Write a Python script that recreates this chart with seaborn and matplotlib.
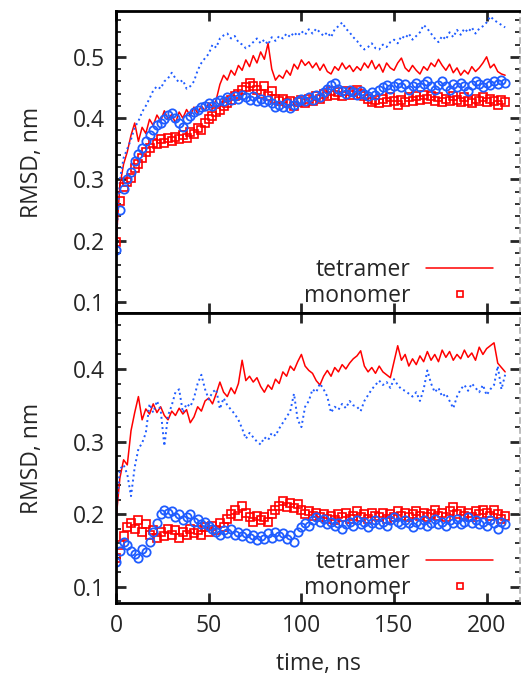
import numpy as np
import seaborn as sns
import matplotlib.pyplot as plt
from matplotlib.lines import Line2D
from matplotlib.ticker import MultipleLocator

red = "#ff0000"
blue = "#1f5cff"

time_ns = list(range(0, 211, 2))

top_tetramer_a = [0.200, 0.290, 0.325, 0.345, 0.372, 0.392, 0.362, 0.385, 0.375, 0.398, 0.388, 0.405, 0.395, 0.412, 0.398,
                  0.406, 0.392, 0.410, 0.400, 0.414, 0.404, 0.418, 0.408, 0.420, 0.412, 0.425, 0.418, 0.430, 0.455, 0.470,
                  0.462, 0.478, 0.470, 0.486, 0.478, 0.495, 0.484, 0.502, 0.490, 0.508, 0.496, 0.522, 0.480, 0.462, 0.470,
                  0.465, 0.478, 0.470, 0.488, 0.480, 0.495, 0.486, 0.492, 0.482, 0.490, 0.478, 0.488, 0.476, 0.472, 0.484,
                  0.478, 0.490, 0.480, 0.486, 0.476, 0.484, 0.478, 0.490, 0.482, 0.494, 0.480, 0.488, 0.475, 0.490, 0.482,
                  0.478, 0.490, 0.498, 0.482, 0.476, 0.486, 0.478, 0.472, 0.484, 0.478, 0.490, 0.484, 0.496, 0.486, 0.478,
                  0.488, 0.474, 0.482, 0.470, 0.478, 0.472, 0.484, 0.476, 0.482, 0.490, 0.500, 0.482, 0.488, 0.476, 0.472,
                  0.470]
top_tetramer_b = [0.200, 0.300, 0.335, 0.350, 0.365, 0.385, 0.395, 0.410, 0.420, 0.432, 0.445, 0.452, 0.448, 0.460, 0.465,
                  0.474, 0.465, 0.458, 0.462, 0.448, 0.452, 0.460, 0.478, 0.490, 0.498, 0.505, 0.520, 0.515, 0.530, 0.535,
                  0.538, 0.530, 0.534, 0.524, 0.520, 0.514, 0.518, 0.524, 0.530, 0.522, 0.528, 0.520, 0.532, 0.526, 0.534,
                  0.530, 0.538, 0.532, 0.540, 0.534, 0.542, 0.536, 0.545, 0.538, 0.546, 0.540, 0.534, 0.540, 0.532, 0.545,
                  0.550, 0.556, 0.546, 0.540, 0.532, 0.526, 0.518, 0.512, 0.516, 0.522, 0.514, 0.512, 0.520, 0.516, 0.524,
                  0.528, 0.522, 0.534, 0.530, 0.538, 0.528, 0.534, 0.540, 0.552, 0.546, 0.538, 0.530, 0.524, 0.534, 0.528,
                  0.540, 0.532, 0.544, 0.536, 0.546, 0.540, 0.548, 0.538, 0.546, 0.550, 0.556, 0.566, 0.560, 0.556, 0.552,
                  0.548]
top_monomer_a = [0.198, 0.265, 0.288, 0.295, 0.302, 0.318, 0.325, 0.335, 0.345, 0.352, 0.360, 0.358, 0.366, 0.360, 0.368,
                 0.362, 0.370, 0.366, 0.372, 0.368, 0.378, 0.374, 0.384, 0.380, 0.392, 0.398, 0.404, 0.410, 0.414, 0.420,
                 0.425, 0.430, 0.436, 0.440, 0.446, 0.450, 0.458, 0.452, 0.446, 0.440, 0.452, 0.436, 0.444, 0.432, 0.428,
                 0.432, 0.424, 0.428, 0.420, 0.426, 0.430, 0.424, 0.432, 0.428, 0.436, 0.432, 0.440, 0.436, 0.444, 0.438,
                 0.442, 0.436, 0.444, 0.438, 0.442, 0.446, 0.440, 0.436, 0.432, 0.426, 0.430, 0.424, 0.432, 0.426, 0.434,
                 0.428, 0.422, 0.430, 0.426, 0.434, 0.428, 0.436, 0.430, 0.438, 0.432, 0.436, 0.428, 0.434, 0.426, 0.432,
                 0.428, 0.436, 0.430, 0.426, 0.434, 0.428, 0.424, 0.432, 0.428, 0.434, 0.426, 0.432, 0.428, 0.422, 0.430,
                 0.426]
top_monomer_b = [0.185, 0.250, 0.285, 0.300, 0.312, 0.330, 0.342, 0.352, 0.362, 0.372, 0.380, 0.388, 0.392, 0.398, 0.405,
                 0.408, 0.400, 0.392, 0.385, 0.398, 0.404, 0.410, 0.414, 0.418, 0.420, 0.424, 0.420, 0.426, 0.430, 0.428,
                 0.434, 0.430, 0.436, 0.432, 0.438, 0.434, 0.430, 0.436, 0.428, 0.432, 0.426, 0.430, 0.424, 0.418, 0.422,
                 0.418, 0.424, 0.416, 0.422, 0.428, 0.432, 0.428, 0.434, 0.430, 0.438, 0.434, 0.442, 0.448, 0.454, 0.458,
                 0.448, 0.444, 0.440, 0.446, 0.442, 0.438, 0.444, 0.440, 0.436, 0.442, 0.438, 0.446, 0.450, 0.454, 0.448,
                 0.452, 0.458, 0.450, 0.456, 0.446, 0.452, 0.458, 0.450, 0.456, 0.460, 0.452, 0.446, 0.454, 0.460, 0.452,
                 0.446, 0.456, 0.450, 0.458, 0.452, 0.444, 0.454, 0.460, 0.456, 0.450, 0.458, 0.454, 0.460, 0.456, 0.462,
                 0.458]

bot_tetramer_a = [0.195, 0.250, 0.275, 0.268, 0.315, 0.340, 0.362, 0.330, 0.345, 0.338, 0.352, 0.340, 0.348, 0.336, 0.330,
                  0.342, 0.336, 0.346, 0.338, 0.344, 0.326, 0.334, 0.348, 0.342, 0.356, 0.360, 0.352, 0.366, 0.382, 0.368,
                  0.362, 0.374, 0.366, 0.380, 0.412, 0.384, 0.390, 0.382, 0.388, 0.376, 0.368, 0.378, 0.372, 0.386, 0.380,
                  0.396, 0.390, 0.404, 0.398, 0.410, 0.420, 0.404, 0.398, 0.394, 0.384, 0.378, 0.390, 0.398, 0.390, 0.402,
                  0.396, 0.406, 0.400, 0.408, 0.414, 0.418, 0.425, 0.404, 0.396, 0.402, 0.394, 0.404, 0.396, 0.392, 0.388,
                  0.410, 0.432, 0.412, 0.420, 0.404, 0.414, 0.406, 0.418, 0.410, 0.424, 0.412, 0.420, 0.410, 0.426, 0.416,
                  0.424, 0.412, 0.420, 0.414, 0.426, 0.416, 0.422, 0.412, 0.430, 0.420, 0.428, 0.432, 0.436, 0.408, 0.402,
                  0.396]
bot_tetramer_b = [0.200, 0.262, 0.268, 0.255, 0.225, 0.265, 0.290, 0.298, 0.312, 0.352, 0.340, 0.356, 0.344, 0.294, 0.336,
                  0.350, 0.368, 0.372, 0.340, 0.352, 0.348, 0.360, 0.380, 0.392, 0.372, 0.358, 0.368, 0.372, 0.345, 0.360,
                  0.350, 0.344, 0.338, 0.330, 0.318, 0.304, 0.312, 0.306, 0.300, 0.296, 0.306, 0.302, 0.312, 0.308, 0.318,
                  0.326, 0.334, 0.342, 0.366, 0.330, 0.320, 0.348, 0.356, 0.372, 0.368, 0.380, 0.372, 0.362, 0.340, 0.348,
                  0.344, 0.352, 0.346, 0.356, 0.350, 0.348, 0.342, 0.356, 0.364, 0.372, 0.378, 0.384, 0.378, 0.382, 0.374,
                  0.386, 0.378, 0.372, 0.370, 0.366, 0.362, 0.368, 0.356, 0.372, 0.398, 0.380, 0.368, 0.374, 0.362, 0.366,
                  0.356, 0.346, 0.362, 0.372, 0.378, 0.370, 0.380, 0.374, 0.368, 0.378, 0.364, 0.372, 0.378, 0.404, 0.372,
                  0.392]
bot_monomer_a = [0.140, 0.158, 0.170, 0.182, 0.188, 0.180, 0.192, 0.176, 0.186, 0.172, 0.178, 0.168, 0.176, 0.170, 0.180,
                 0.172, 0.178, 0.168, 0.176, 0.172, 0.180, 0.174, 0.178, 0.172, 0.182, 0.176, 0.184, 0.178, 0.188, 0.182,
                 0.194, 0.200, 0.206, 0.198, 0.212, 0.202, 0.196, 0.190, 0.198, 0.192, 0.196, 0.190, 0.200, 0.206, 0.212,
                 0.218, 0.210, 0.216, 0.208, 0.214, 0.206, 0.200, 0.204, 0.198, 0.202, 0.196, 0.200, 0.194, 0.198, 0.192,
                 0.200, 0.196, 0.202, 0.194, 0.198, 0.204, 0.196, 0.200, 0.194, 0.202, 0.198, 0.196, 0.202, 0.194, 0.200,
                 0.196, 0.204, 0.198, 0.202, 0.196, 0.200, 0.204, 0.198, 0.202, 0.196, 0.200, 0.206, 0.198, 0.202, 0.196,
                 0.204, 0.210, 0.200, 0.204, 0.198, 0.202, 0.196, 0.204, 0.200, 0.206, 0.202, 0.198, 0.206, 0.200, 0.194,
                 0.198]
bot_monomer_b = [0.135, 0.150, 0.162, 0.158, 0.150, 0.145, 0.140, 0.152, 0.148, 0.162, 0.176, 0.188, 0.200, 0.206, 0.202,
                 0.204, 0.196, 0.200, 0.192, 0.196, 0.200, 0.190, 0.194, 0.186, 0.190, 0.184, 0.180, 0.176, 0.172, 0.178,
                 0.174, 0.180, 0.172, 0.176, 0.170, 0.174, 0.168, 0.172, 0.164, 0.170, 0.166, 0.174, 0.168, 0.176, 0.170,
                 0.174, 0.166, 0.172, 0.162, 0.176, 0.182, 0.188, 0.184, 0.192, 0.196, 0.190, 0.194, 0.186, 0.190, 0.184,
                 0.188, 0.180, 0.186, 0.190, 0.184, 0.192, 0.186, 0.190, 0.182, 0.188, 0.192, 0.186, 0.190, 0.184, 0.192,
                 0.196, 0.190, 0.186, 0.192, 0.188, 0.182, 0.190, 0.186, 0.192, 0.184, 0.188, 0.194, 0.186, 0.190, 0.184,
                 0.192, 0.188, 0.194, 0.186, 0.190, 0.196, 0.188, 0.192, 0.186, 0.190, 0.184, 0.192, 0.188, 0.180, 0.190,
                 0.186]

sns.set_style("ticks")
plt.rcParams['font.family'] = ['Open Sans', 'DejaVu Sans']
fs = 16.5

fig = plt.figure(figsize=(5.21, 6.79), dpi=100)
ax_top = fig.add_axes([0.223, 0.539, 0.775, 0.445])
ax_bot = fig.add_axes([0.223, 0.112, 0.775, 0.427])


def draw_panel(ax, line_a, line_b, mono_a, mono_b, legend_y):
    sns.lineplot(x=time_ns, y=line_a, ax=ax, color=red, lw=1.1, estimator=None, errorbar=None)
    sns.lineplot(x=time_ns, y=line_b, ax=ax, color=blue, lw=1.4, ls=":", estimator=None, errorbar=None)
    sns.lineplot(x=time_ns, y=mono_a, ax=ax, color=red, ls="none", marker="s", ms=5.4,
                 markerfacecolor="none", markeredgecolor=red, mew=1.2, estimator=None, errorbar=None)
    sns.lineplot(x=time_ns, y=mono_b, ax=ax, color=blue, ls="none", marker="o", ms=6.0,
                 markerfacecolor="none", markeredgecolor=blue, mew=1.3, estimator=None, errorbar=None)
    ax.set_xlim(0, 218)
    ax.xaxis.set_major_locator(MultipleLocator(50))
    ax.yaxis.set_major_locator(MultipleLocator(0.1))
    ax.yaxis.set_minor_locator(MultipleLocator(0.02))
    ax.tick_params(which="major", direction="in", length=7, width=2, top=True, right=True,
                   labelsize=fs, pad=8)
    ax.tick_params(which="minor", direction="in", length=3.5, width=1.3, right=True)
    for side in ["left", "top", "bottom"]:
        ax.spines[side].set_linewidth(2)
        ax.spines[side].set_color("black")
    ax.spines["right"].set_color("#b0b0b0")
    ax.spines["right"].set_linestyle((0, (3, 3)))
    ax.spines["right"].set_linewidth(1.2)
    ax.set_ylabel("RMSD, nm", fontsize=fs, labelpad=21)
    handles = [Line2D([], [], color=red, lw=1.1),
               Line2D([], [], color=red, ls="none", marker="s", ms=4.5, markerfacecolor="none", mew=1.2)]
    ax.legend(handles, ["tetramer", "monomer"], loc="lower right", frameon=False, markerfirst=False,
              handlelength=2.9, handletextpad=0.7, labelspacing=0.1, fontsize=fs,
              borderaxespad=0, borderpad=0, bbox_to_anchor=(0.933, legend_y))


draw_panel(ax_top, top_tetramer_a, top_tetramer_b, top_monomer_a, top_monomer_b, 0.015)
ax_top.set_ylim(0.082, 0.575)
ax_top.set_yticks([0.1, 0.2, 0.3, 0.4, 0.5])
ax_top.tick_params(labelbottom=False)
ax_top.set_xlabel("")

draw_panel(ax_bot, bot_tetramer_a, bot_tetramer_b, bot_monomer_a, bot_monomer_b, 0.01)
ax_bot.set_ylim(0.078, 0.477)
ax_bot.set_yticks([0.1, 0.2, 0.3, 0.4])
ax_bot.set_xlabel("time, ns", fontsize=fs, labelpad=10)

fig.align_ylabels([ax_top, ax_bot])
fig.savefig("out.png", dpi=100)
